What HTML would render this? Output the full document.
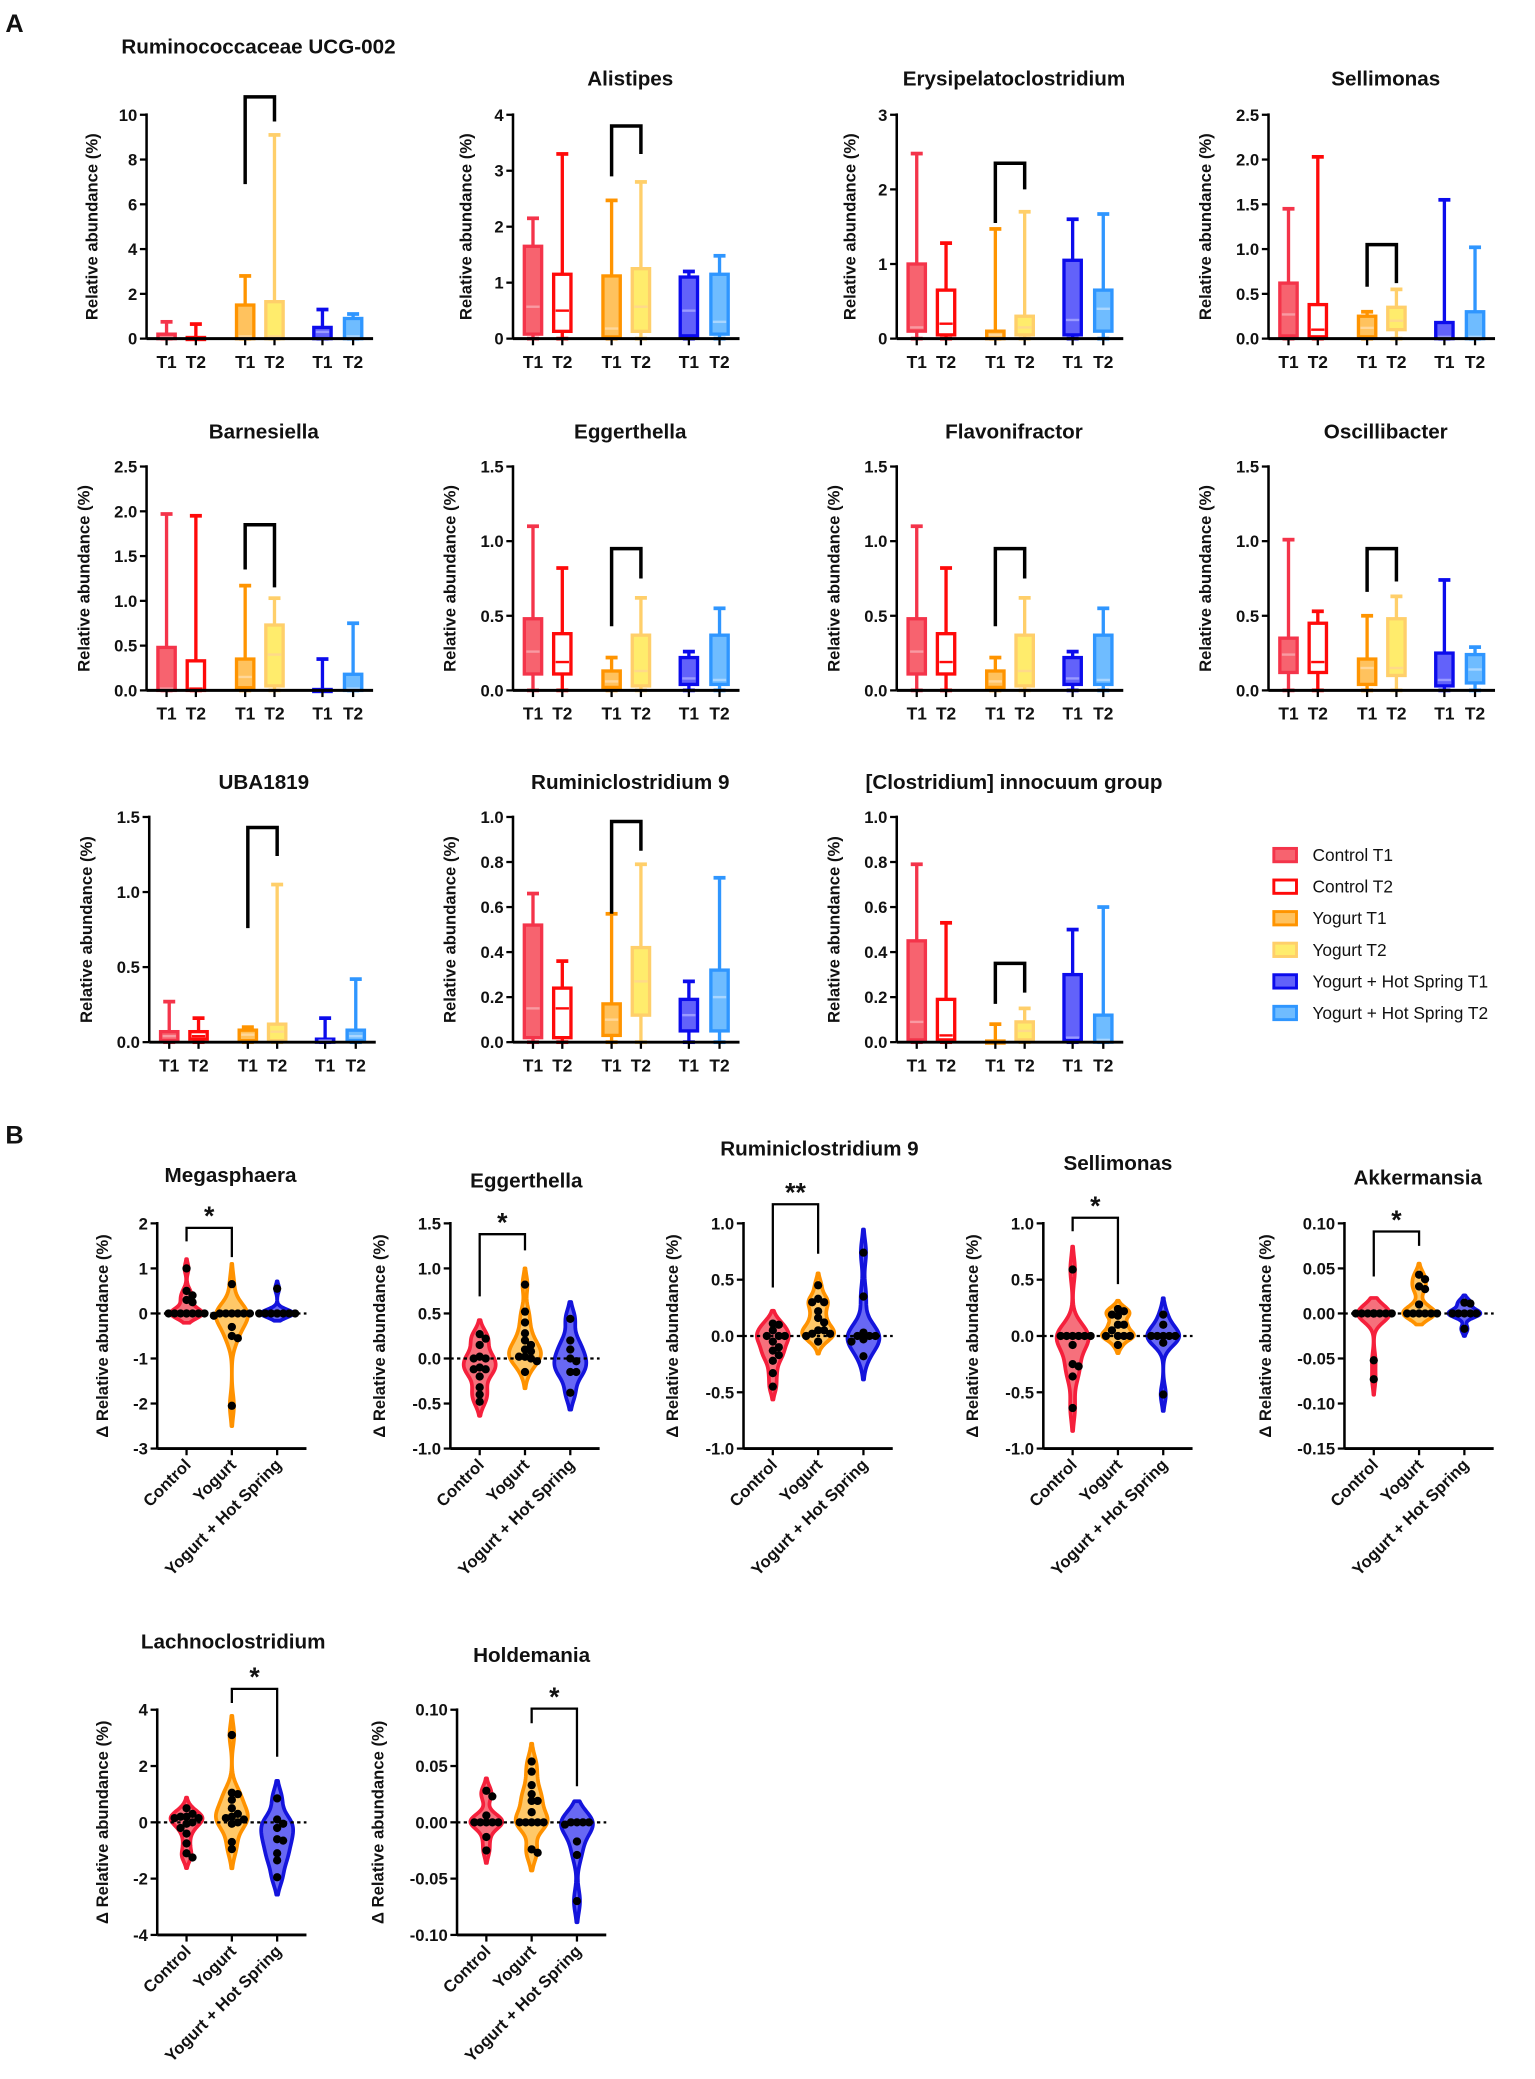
<!DOCTYPE html>
<html><head><meta charset="utf-8">
<style>
html,body{margin:0;padding:0;background:#fff;}
svg{display:block;font-family:"Liberation Sans",Arial,sans-serif;}
text{font-weight:bold;fill:#111;}
</style></head>
<body>
<svg id="fig" xmlns="http://www.w3.org/2000/svg" width="1535" height="2079" viewBox="0 0 1152 1560">
<text x="4" y="24" font-size="19">A</text>
<text x="4" y="858" font-size="19">B</text>
<g id="legend"></g>
</svg>
<script>
// ===== Panel A data: [min, q1, median, q3, max] per group (Control T1, Control T2, Yogurt T1, Yogurt T2, YHS T1, YHS T2)
const boxTitles = ["Ruminococcaceae UCG-002","Alistipes","Erysipelatoclostridium","Sellimonas","Barnesiella","Eggerthella","Flavonifractor","Oscillibacter","UBA1819","Ruminiclostridium 9","[Clostridium] innocuum group"];
const boxYMax = [10,4,3,2.5,2.5,1.5,1.5,1.5,1.5,1.0,1.0];
const boxYTicks = [["0","2","4","6","8","10"],["0","1","2","3","4"],["0","1","2","3"],["0.0","0.5","1.0","1.5","2.0","2.5"],["0.0","0.5","1.0","1.5","2.0","2.5"],["0.0","0.5","1.0","1.5"],["0.0","0.5","1.0","1.5"],["0.0","0.5","1.0","1.5"],["0.0","0.5","1.0","1.5"],["0.0","0.2","0.4","0.6","0.8","1.0"],["0.0","0.2","0.4","0.6","0.8","1.0"]];
const statsRuminococcaceae = [[0,0,0.05,0.2,0.75],[0,0,0,0.05,0.65],[0,0,0.1,1.5,2.8],[0,0,0.1,1.65,9.1],[0,0,0.3,0.5,1.3],[0,0,0.1,0.9,1.1]];
const statsAlistipes = [[0,0.08,0.57,1.65,2.15],[0,0.13,0.5,1.15,3.3],[0,0.03,0.18,1.12,2.47],[0,0.13,0.57,1.25,2.8],[0,0.05,0.5,1.1,1.2],[0,0.08,0.3,1.15,1.48]];
const statsErysipelato = [[0,0.1,0.15,1.0,2.48],[0,0.05,0.2,0.65,1.28],[0,0,0.05,0.1,1.47],[0,0.05,0.15,0.3,1.7],[0,0.05,0.25,1.05,1.6],[0,0.1,0.4,0.65,1.67]];
const statsSellimonas = [[0,0.03,0.27,0.62,1.45],[0,0.02,0.1,0.38,2.03],[0,0.02,0.12,0.25,0.3],[0,0.1,0.2,0.35,0.55],[0,0,0.02,0.18,1.55],[0,0,0.02,0.3,1.02]];
const statsBarnesiella = [[0,0,0.02,0.48,1.97],[0,0,0.02,0.33,1.95],[0,0.03,0.15,0.35,1.17],[0,0.05,0.4,0.73,1.03],[0,0,0,0.01,0.35],[0,0,0.02,0.18,0.75]];
const statsEggerthella = [[0,0.11,0.26,0.48,1.1],[0,0.11,0.19,0.38,0.82],[0,0.02,0.06,0.13,0.22],[0,0.03,0.13,0.37,0.62],[0,0.04,0.08,0.22,0.26],[0,0.04,0.07,0.37,0.55]];
const statsFlavonifractor = [[0,0.11,0.26,0.48,1.1],[0,0.11,0.19,0.38,0.82],[0,0.02,0.06,0.13,0.22],[0,0.03,0.13,0.37,0.62],[0,0.04,0.08,0.22,0.26],[0,0.04,0.07,0.37,0.55]];
const statsOscillibacter = [[0,0.12,0.24,0.35,1.01],[0,0.12,0.19,0.45,0.53],[0,0.04,0.15,0.21,0.5],[0,0.1,0.15,0.48,0.63],[0,0.03,0.07,0.25,0.74],[0,0.05,0.14,0.24,0.29]];
const statsUBA1819 = [[0,0.01,0.04,0.07,0.27],[0,0.02,0.04,0.07,0.16],[0,0.01,0.05,0.08,0.1],[0,0.01,0.07,0.12,1.05],[0,0,0.01,0.02,0.16],[0,0.01,0.04,0.08,0.42]];
const statsRuminiclostridium = [[0,0.02,0.15,0.52,0.66],[0,0.02,0.15,0.24,0.36],[0,0.03,0.1,0.17,0.57],[0,0.12,0.27,0.42,0.79],[0,0.05,0.12,0.19,0.27],[0,0.05,0.2,0.32,0.73]];
const statsInnocuum = [[0,0.01,0.09,0.45,0.79],[0,0.01,0.03,0.19,0.53],[0,0,0,0.005,0.08],[0,0.01,0.05,0.09,0.15],[0,0.01,0.02,0.3,0.5],[0,0,0.01,0.12,0.6]];
const boxStats = [statsRuminococcaceae,statsAlistipes,statsErysipelato,statsSellimonas,statsBarnesiella,statsEggerthella,statsFlavonifractor,statsOscillibacter,statsUBA1819,statsRuminiclostridium,statsInnocuum];
// bracket between Yogurt T1 and Yogurt T2: [top, left end, right end] in data units
const boxBrackets = [[10.8,6.9,9.7],[3.8,2.9,3.3],[2.35,1.55,2.0],[1.05,0.58,0.62],[1.85,1.35,1.15],[0.95,0.43,0.75],[0.95,0.43,0.75],[0.95,0.66,0.73],[1.43,0.76,1.24],[0.98,0.57,0.85],[0.35,0.17,0.22]];
const groupLabels = ["T1","T2","T1","T2","T1","T2"];
const legendLabels = ["Control T1","Control T2","Yogurt T1","Yogurt T2","Yogurt + Hot Spring T1","Yogurt + Hot Spring T2"];

// ===== Panel B data: per-subject change values
const vioTitles = ["Megasphaera","Eggerthella","Ruminiclostridium 9","Sellimonas","Akkermansia","Lachnoclostridium","Holdemania"];
const vioCategories = ["Control","Yogurt","Yogurt + Hot Spring"];
const vioYMin = [-3,-1,-1,-1,-0.15,-4,-0.1];
const vioYMax = [2,1.5,1,1,0.1,4,0.1];
const vioTicks = [["-3","-2","-1","0","1","2"],["-1.0","-0.5","0.0","0.5","1.0","1.5"],["-1.0","-0.5","0.0","0.5","1.0"],["-1.0","-0.5","0.0","0.5","1.0"],["-0.15","-0.10","-0.05","0.00","0.05","0.10"],["-4","-2","0","2","4"],["-0.10","-0.05","0.00","0.05","0.10"]];
const megControl = [1.0,0.5,0.4,0.3,0.25,0,0,0,0,0,0,0,0];
const megYogurt = [0.65,0,0,0,0,0,0,-0.05,-0.3,-0.5,-0.55,-2.05];
const megHS = [0.55,0,0,0,0,0,0,0,0];
const eggControl = [0.22,0.27,0.15,0.02,0,-0.1,-0.12,-0.12,-0.2,-0.32,-0.4,-0.48,0];
const eggYogurt = [0.82,0.52,0.4,0.28,0.2,0.15,0.1,0.08,0.02,0.02,0,-0.03,-0.15];
const eggHS = [0.44,0.2,0.1,0,-0.03,-0.15,-0.15,-0.38];
const rumControl = [0.11,0.1,0.05,0,0,0,-0.05,-0.1,-0.13,-0.17,-0.22,-0.33,-0.45];
const rumYogurt = [0.45,0.33,0.3,0.3,0.22,0.16,0.12,0.05,0.05,0.02,0.02,-0.05,0];
const rumHS = [0.74,0.35,0.03,0,0,0,-0.03,-0.05,-0.18];
const selControl = [0.59,0,0,0,0,0,0,-0.08,-0.25,-0.27,-0.36,-0.64];
const selYogurt = [0.24,0.22,0.19,0.18,0.1,0.1,0.05,0,0,0,0,-0.08];
const selHS = [0.19,0.1,0,0,0,0,0,-0.06,-0.52];
const akkControl = [0,0,0,0,0,0,0,0,0,0,-0.052,-0.073];
const akkYogurt = [0.043,0.038,0.03,0.027,0.01,0,0,0,0,0,0];
const akkHS = [0.012,0.011,0,0,0,0,0,-0.017];
const lacControl = [0.5,0.3,0.2,0.2,0.15,0.15,0,-0.2,-0.4,-0.75,-1.1,-1.25,-0.05];
const lacYogurt = [3.1,1.05,1.0,0.8,0.5,0.3,0.2,0.15,0,-0.05,0.1,-0.7,-0.95];
const lacHS = [0.85,0.1,-0.05,-0.2,-0.6,-0.65,-1.1,-1.35,-1.95];
const holControl = [0.028,0.023,0.006,0,0,0,0,0,-0.013,-0.025];
const holYogurt = [0.054,0.045,0.033,0.025,0.019,0.019,0.009,0,0,0,0,0,-0.024,-0.027];
const holHS = [0,0,0,0,-0.002,-0.017,-0.029,-0.07];
const vioData = [[megControl,megYogurt,megHS],[eggControl,eggYogurt,eggHS],[rumControl,rumYogurt,rumHS],[selControl,selYogurt,selHS],[akkControl,akkYogurt,akkHS],[lacControl,lacYogurt,lacHS],[holControl,holYogurt,holHS]];
// bracket: [from group, to group, top, left end, right end, stars]
const vioBrackets = [[0,1,1.9,1.6,1.25,"*"],[0,1,1.38,0.69,1.2,"*"],[0,1,1.17,0.43,0.73,"**"],[0,1,1.05,0.93,0.46,"*"],[0,1,0.091,0.041,0.075,"*"],[1,2,4.74,4.24,2.33,"*"],[1,2,0.101,0.088,0.032,"*"]];

// ===== layout (not data)
const NS="http://www.w3.org/2000/svg";
const svg=document.getElementById('fig');
function el(tag,attrs,parent){const e=document.createElementNS(NS,tag);for(const k in attrs)e.setAttribute(k,attrs[k]);(parent||svg).appendChild(e);return e;}
const boxLayout=[[110,86,254,194,40],[385,86,254,473,64],[673,86,254,761,64],[952,86,254,1040,64],
 [110,350,518,198,329],[385,350,518,473,329],[673,350,518,761,329],[952,350,518,1040,329],
 [112,613,782,198,592],[385,613,782,473,592],[673,613,782,761,592]];
const boxOffsets=[15,37,74,96,132,155];
const boxStroke=["#f4344a","#ff0a0a","#ff9400","#ffcf6a","#0c0cec","#2f96ff"];
const boxFill=["#f7636f","#ffffff","#ffc25e","#ffec6c","#6262fa","#6fbcff"];
const boxMed=["#f99aa2","#ff0a0a","#ffd79a","#ffd98a","#9a9aff","#a9d6ff"];

boxTitles.forEach((title,p)=>{
  const [ax,top,zero,tcx,tby]=boxLayout[p];
  const g=el('g',{});
  
  
  const ymax=boxYMax[p];
  const Y=v=>zero-(v/ymax)*(zero-top);
  const t=el('text',{x:tcx,y:tby,'font-size':15.5,'text-anchor':'middle'},g);t.textContent=title;
  
  boxStats[p].forEach((s,i)=>{
    const cx=ax+boxOffsets[i];
    const gg=el('g',{},g);
    
    
    const c=boxStroke[i];
    el('line',{x1:cx,x2:cx,y1:Y(s[0]),y2:Y(s[1]),stroke:c,'stroke-width':2.5},gg);
    el('line',{x1:cx,x2:cx,y1:Y(s[3]),y2:Y(s[4]),stroke:c,'stroke-width':2.5},gg);
    el('line',{x1:cx-4.5,x2:cx+4.5,y1:Y(s[4]),y2:Y(s[4]),stroke:c,'stroke-width':2.8},gg);
    el('line',{x1:cx-4.5,x2:cx+4.5,y1:Y(s[0]),y2:Y(s[0]),stroke:c,'stroke-width':2.8},gg);
    const h=Math.max(Y(s[1])-Y(s[3]),1.5);
    el('rect',{x:cx-6.5,y:Y(s[3]),width:13,height:h,fill:boxFill[i],stroke:c,'stroke-width':2.5},gg);
    el('line',{x1:cx-5,x2:cx+5,y1:Y(s[2]),y2:Y(s[2]),stroke:boxMed[i],'stroke-width':1.8},gg);
  });
  el('line',{x1:ax,x2:ax,y1:top-1,y2:zero,stroke:'#000','stroke-width':1.9},g);
  el('line',{x1:ax,x2:ax+170,y1:zero,y2:zero,stroke:'#000','stroke-width':2.2},g);
  boxYTicks[p].forEach((lab,k)=>{
    const v=ymax*k/(boxYTicks[p].length-1);
    el('line',{x1:ax-5,x2:ax,y1:Y(v),y2:Y(v),stroke:'#000','stroke-width':1.7},g);
    const tt=el('text',{x:ax-7,y:Y(v)+4.5,'font-size':12.5,'text-anchor':'end'},g);tt.textContent=lab;
    
  });
  groupLabels.forEach((lab,i)=>{
    const cx=ax+boxOffsets[i];
    el('line',{x1:cx,x2:cx,y1:zero,y2:zero+5,stroke:'#000','stroke-width':1.7},g);
    const tt=el('text',{x:cx,y:zero+22,'font-size':13,'text-anchor':'middle'},g);tt.textContent=lab;
    
  });
  const ymid=(top+zero)/2;
  const maxc=Math.max(...boxYTicks[p].map(s=>s.length));
  const yx=ax-(25+6*maxc);
  const yt=el('text',{x:yx,y:ymid,'font-size':12.5,'text-anchor':'middle',transform:`rotate(-90 ${yx} ${ymid})`},g);
  yt.textContent='Relative abundance (%)';
  
  const b=boxBrackets[p];const x1=ax+boxOffsets[2],x2=ax+boxOffsets[3];
  const br=el('path',{d:`M${x1},${Y(b[1])} V${Y(b[0])} H${x2} V${Y(b[2])}`,fill:'none',stroke:'#000','stroke-width':2.6},g);
  
});

const lg=document.getElementById('legend');
legendLabels.forEach((lab,i)=>{
  const y=641.6+i*23.7;
  const r=el('rect',{x:956,y:y-5,width:17,height:10,fill:boxFill[i],stroke:boxStroke[i],'stroke-width':2.2},lg);
  
  const t=el('text',{x:985,y:y+4.5,'font-size':13,style:'font-weight:normal'},lg);t.textContent=lab;
  
});

// ===== violins
const vioLayout=[[118,918,1087,173,887],[338,918,1087,395,891],[558,918,1087,615,867],[783,918,1087,839,878],[1009,918,1087,1064,889],[118,1283,1452,175,1237],[343,1283,1452,399,1247]];
const vioOffsets=[22,56,90];
const vioStroke=["#f5203c","#ff9200","#1414dc"];
const vioFill=["#f6707c","#ffc868","#6868f4"];
function kde(vals,range){
  const n=vals.length;const m=vals.reduce((a,b)=>a+b,0)/n;
  const sd=Math.sqrt(vals.reduce((a,b)=>a+(b-m)*(b-m),0)/Math.max(n-1,1));
  let h=1.06*sd*Math.pow(n,-0.2)*0.6;
  h=Math.max(h,range*0.018);
  const mn=Math.min(...vals),mx=Math.max(...vals);
  const a=mn-1.8*h,b=mx+1.8*h;const pts=[];
  for(let k=0;k<=80;k++){const y=a+(b-a)*k/80;let d=0;vals.forEach(v=>{const z=(y-v)/h;d+=Math.exp(-0.5*z*z);});pts.push([y,d]);}
  return pts;
}
vioTitles.forEach((title,p)=>{
  const [ax,top,bot,tcx,tby]=vioLayout[p];
  const g=el('g',{});
  
  
  const y0=vioYMin[p],y1=vioYMax[p],range=y1-y0;
  const Y=v=>bot-(v-y0)/range*(bot-top);
  const t=el('text',{x:tcx,y:tby,'font-size':15.5,'text-anchor':'middle'},g);t.textContent=title;
  
  vioData[p].forEach((vals,i)=>{
    const cx=ax+vioOffsets[i];
    const pts=kde(vals,range);const dmax=Math.max(...pts.map(q=>q[1]));
    const W=12;
    let d='M';
    pts.forEach((q,k)=>{d+=(k?' L':'')+(cx+q[1]/dmax*W).toFixed(2)+','+Y(q[0]).toFixed(2);});
    for(let k=pts.length-1;k>=0;k--){const q=pts[k];d+=' L'+(cx-q[1]/dmax*W).toFixed(2)+','+Y(q[0]).toFixed(2);}
    d+='Z';
    const v=el('path',{d:d,fill:vioFill[i],stroke:vioStroke[i],'stroke-width':2.8,'stroke-linejoin':'round'},g);
    
    
  });
  el('line',{x1:ax,x2:ax+112,y1:Y(0),y2:Y(0),stroke:'#000','stroke-width':1.7,'stroke-dasharray':'2.5,2.5'},g);
  vioData[p].forEach((vals,i)=>{
    const cx=ax+vioOffsets[i];const r=3.1;const placed=[];const step=r*1.45;const maxOff=14;
    [...vals].sort((a,b)=>b-a).forEach(v=>{
      const py=Y(v);let best=0,bestD=-1;
      for(let k=0;k<40;k++){const o=(k%2?1:-1)*Math.ceil(k/2)*step;
        if(Math.abs(o)>maxOff)break;
        const dmin=placed.length?Math.min(...placed.map(q=>Math.hypot(q[0]-(cx+o),q[1]-py))):99;
        if(dmin>=step){best=o;bestD=99;break;}
        if(dmin>bestD){bestD=dmin;best=o;}}
      placed.push([cx+best,py]);
      const c=el('circle',{cx:cx+best,cy:py,r:r,fill:'#000'},g);
      
    });
  });
  el('line',{x1:ax,x2:ax,y1:top-1,y2:bot,stroke:'#000','stroke-width':1.9},g);
  el('line',{x1:ax,x2:ax+112,y1:bot,y2:bot,stroke:'#000','stroke-width':2.2},g);
  vioTicks[p].forEach((lab,k)=>{
    const v=y0+range*k/(vioTicks[p].length-1);
    el('line',{x1:ax-5,x2:ax,y1:Y(v),y2:Y(v),stroke:'#000','stroke-width':1.7},g);
    const tt=el('text',{x:ax-7,y:Y(v)+4.5,'font-size':12.5,'text-anchor':'end'},g);tt.textContent=lab;
    
  });
  vioCategories.forEach((lab,i)=>{
    const cx=ax+vioOffsets[i];
    el('line',{x1:cx,x2:cx,y1:bot,y2:bot+5,stroke:'#000','stroke-width':1.7},g);
    const lx=cx+4,ly=bot+13;
    const tt=el('text',{x:lx,y:ly,'font-size':12.5,'text-anchor':'end',transform:`rotate(-45 ${lx} ${ly})`},g);tt.textContent=lab;
    
  });
  const ymid=(top+bot)/2;
  const maxc=Math.max(...vioTicks[p].map(s=>s.length));
  const yx=ax-(25+6*maxc);
  const yt=el('text',{x:yx,y:ymid,'font-size':12.5,'text-anchor':'middle',transform:`rotate(-90 ${yx} ${ymid})`},g);
  yt.textContent='Δ Relative abundance (%)';
  
  const b=vioBrackets[p];const x1=ax+vioOffsets[b[0]],x2=ax+vioOffsets[b[1]];
  const br=el('path',{d:`M${x1},${Y(b[3])} V${Y(b[2])} H${x2} V${Y(b[4])}`,fill:'none',stroke:'#000','stroke-width':1.7},g);
  
  const st=el('text',{x:(x1+x2)/2,y:Y(b[2])-2,'font-size':20,'text-anchor':'middle'},g);st.textContent=b[5];
  
});
</script>
</body></html>
